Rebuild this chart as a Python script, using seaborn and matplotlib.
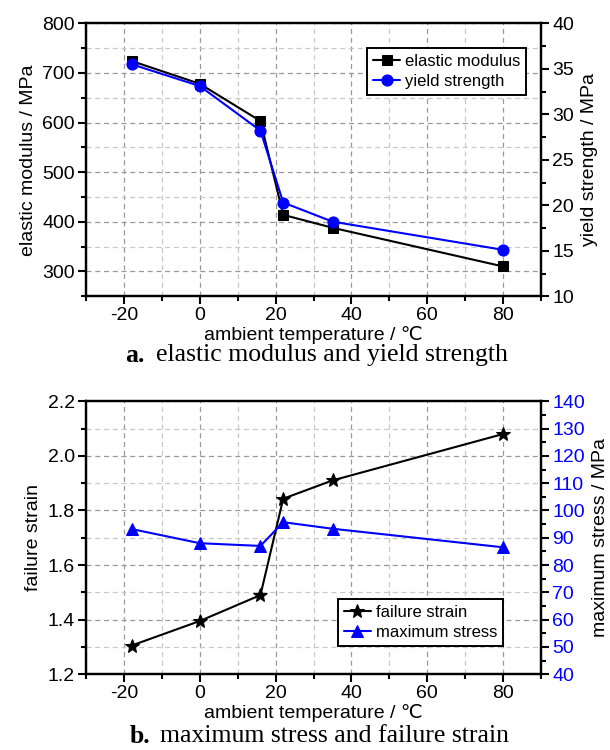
import pandas as pd
import seaborn as sns
import matplotlib.pyplot as plt
from matplotlib.ticker import MultipleLocator

# data
temperature = [-18, 0, 16, 22, 35, 80]
elastic_modulus = [724, 678, 603, 414, 388, 310]
yield_strength = [35.5, 33.1, 28.2, 20.3, 18.2, 15.1]
failure_strain = [1.305, 1.395, 1.49, 1.843, 1.91, 2.08]
maximum_stress = [93.2, 88.0, 87.0, 95.7, 93.3, 86.5]

sns.set_style('ticks')
plt.rcParams['font.family'] = ['Liberation Sans', 'DejaVu Sans']
plt.rcParams['axes.unicode_minus'] = False
plt.rcParams['axes.edgecolor'] = 'black'
plt.rcParams['axes.labelcolor'] = 'black'
plt.rcParams['xtick.color'] = 'black'
plt.rcParams['ytick.color'] = 'black'
plt.rcParams['text.color'] = 'black'

df_a = pd.DataFrame({'T': temperature, 'E': elastic_modulus, 'Y': yield_strength})
df_b = pd.DataFrame({'T': temperature, 'S': failure_strain, 'M': maximum_stress})

fig = plt.figure(figsize=(6.1, 7.5), dpi=100)
ax1 = fig.add_axes([0.141, 0.605, 0.746, 0.364])
ax2 = fig.add_axes([0.141, 0.101, 0.746, 0.364])

FS = 14


def style_axes(ax, twin, right_color='black'):
    ax.set_xlim(-30, 90)
    ax.xaxis.set_major_locator(MultipleLocator(20))
    ax.xaxis.set_minor_locator(MultipleLocator(10))
    ax.grid(True, which='major', ls=(0, (4, 3)), color='#999999', lw=0.9)
    ax.grid(True, which='minor', ls=(0, (4, 3)), color='#c8c8c8', lw=0.9)
    ax.set_axisbelow(True)
    for a in (ax, twin):
        a.tick_params(which='major', direction='out', length=6, width=1.5, labelsize=FS, pad=2)
        a.tick_params(which='minor', direction='out', length=3.5, width=1.5)
        for s in a.spines.values():
            s.set_visible(True)
            s.set_linewidth(1.6)
            s.set_color('black')
    twin.tick_params(axis='y', labelcolor=right_color)
    ax.set_xlabel('ambient temperature / ℃', fontsize=FS, labelpad=1)


def make_legend(ax, ax_twin, **kw):
    h1, l1 = ax.get_legend_handles_labels()
    h2, l2 = ax_twin.get_legend_handles_labels()
    leg = ax_twin.legend(h1 + h2, l1 + l2, fontsize=12, frameon=True, fancybox=False,
                         edgecolor='black', framealpha=1, handlelength=1.6, handletextpad=0.3,
                         borderpad=0.35, labelspacing=0.3, borderaxespad=0, **kw)
    leg.get_frame().set_linewidth(1.4)


# ---- panel a ----
ax1b = ax1.twinx()
sns.lineplot(data=df_a, x='T', y='E', ax=ax1, color='black', marker='s',
             markersize=7, markeredgecolor='black', lw=1.5, label='elastic modulus', legend=False)
sns.lineplot(data=df_a, x='T', y='Y', ax=ax1b, color='blue', marker='o',
             markersize=8, markeredgecolor='blue', lw=1.5, label='yield strength', legend=False)
ax1.set_ylim(250, 800)
ax1.yaxis.set_major_locator(MultipleLocator(100))
ax1.yaxis.set_minor_locator(MultipleLocator(50))
ax1b.set_ylim(10, 40)
ax1b.yaxis.set_major_locator(MultipleLocator(5))
ax1b.yaxis.set_minor_locator(MultipleLocator(2.5))
ax1.set_ylabel('elastic modulus / MPa', fontsize=FS, labelpad=4)
ax1b.set_ylabel('yield strength / MPa', fontsize=FS, labelpad=5)
style_axes(ax1, ax1b)
make_legend(ax1, ax1b, loc='upper right', bbox_to_anchor=(0.967, 0.908))

# ---- panel b ----
ax2b = ax2.twinx()
sns.lineplot(data=df_b, x='T', y='S', ax=ax2, color='black', marker='*',
             markersize=10, markeredgecolor='black', lw=1.5, label='failure strain', legend=False)
sns.lineplot(data=df_b, x='T', y='M', ax=ax2b, color='blue', marker='^',
             markersize=9, markeredgecolor='blue', lw=1.5, label='maximum stress', legend=False)
ax2.set_ylim(1.2, 2.2)
ax2.yaxis.set_major_locator(MultipleLocator(0.2))
ax2.yaxis.set_minor_locator(MultipleLocator(0.1))
ax2b.set_ylim(40, 140)
ax2b.yaxis.set_major_locator(MultipleLocator(10))
ax2b.yaxis.set_minor_locator(MultipleLocator(5))
ax2.set_ylabel('failure strain', fontsize=FS, labelpad=4)
ax2b.set_ylabel('maximum stress / MPa', fontsize=FS, labelpad=5)
style_axes(ax2, ax2b, right_color='blue')
make_legend(ax2, ax2b, loc='lower right', bbox_to_anchor=(0.916, 0.103))

# captions
cap_font = ['Liberation Serif', 'DejaVu Serif']
fig.text(0.205, 0.526, 'a.', fontsize=18.5, fontweight='bold', family=cap_font, ha='left', va='center')
fig.text(0.255, 0.526, 'elastic modulus and yield strength', fontsize=18.5, family=cap_font, ha='left', va='center')
fig.text(0.213, 0.018, 'b.', fontsize=18.5, fontweight='bold', family=cap_font, ha='left', va='center')
fig.text(0.263, 0.018, 'maximum stress and failure strain', fontsize=18.5, family=cap_font, ha='left', va='center')

plt.savefig('out.png', dpi=100)
plt.close()
